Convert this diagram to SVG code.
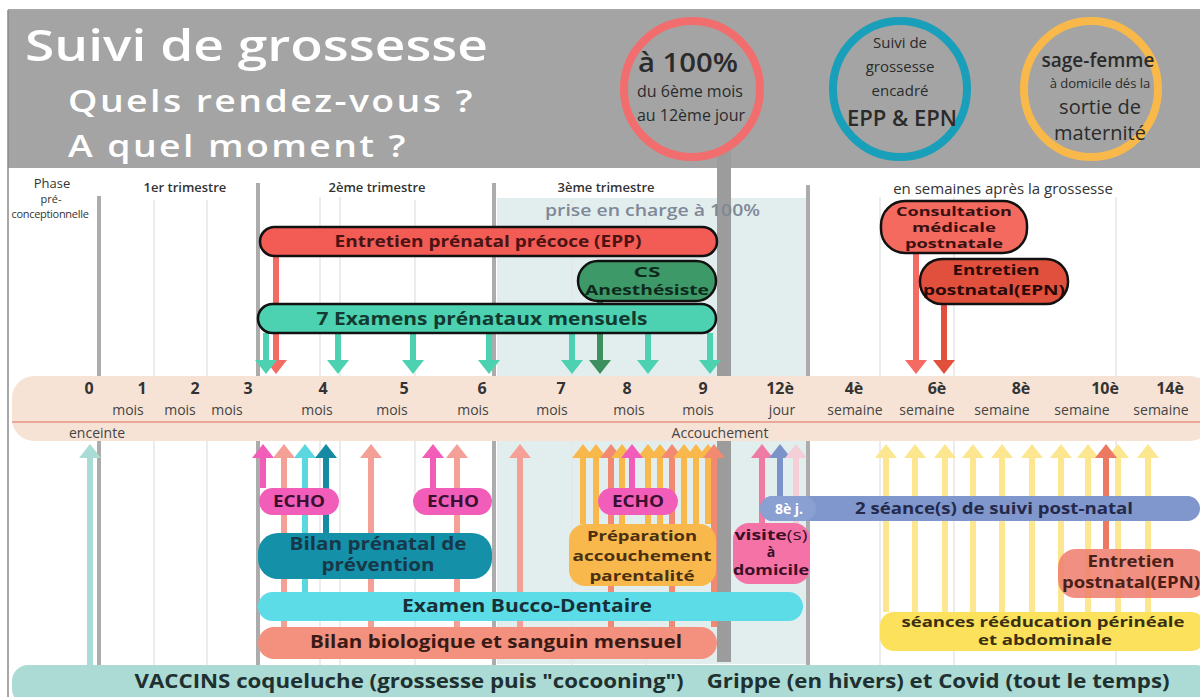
<svg xmlns="http://www.w3.org/2000/svg" width="1200" height="697" viewBox="0 0 1200 697">
<style>
.t{font-family:"Open Sans","Noto Sans",sans-serif}
.b{font-family:"Open Sans","Noto Sans",sans-serif;font-weight:700;text-anchor:middle}
.grid{stroke:#e6e6e6;stroke-width:1.5}
.thick{stroke:#acacac;stroke-width:4}
.bar{stroke:#111;stroke-width:2.5}
.num{font-family:"Open Sans",sans-serif;font-weight:700;font-size:16px;fill:#333;text-anchor:middle}
.unit{font-family:"Open Sans",sans-serif;font-size:14px;fill:#444;text-anchor:middle}
.ct{font-family:"Open Sans",sans-serif;fill:#2b2b2b;text-anchor:middle}
</style>
<defs>
<marker id="mTeal" viewBox="0 0 14 22" refX="0" refY="11" markerWidth="14" markerHeight="22" markerUnits="userSpaceOnUse" orient="auto"><path d="M0,0L14,11L0,22z" fill="#4cd2b0"/></marker>
<marker id="mRed" viewBox="0 0 14 22" refX="0" refY="11" markerWidth="14" markerHeight="22" markerUnits="userSpaceOnUse" orient="auto"><path d="M0,0L14,11L0,22z" fill="#f56b64"/></marker>
<marker id="mGreen" viewBox="0 0 14 22" refX="0" refY="11" markerWidth="14" markerHeight="22" markerUnits="userSpaceOnUse" orient="auto"><path d="M0,0L14,11L0,22z" fill="#3d8f5f"/></marker>
<marker id="mEpn" viewBox="0 0 14 22" refX="0" refY="11" markerWidth="14" markerHeight="22" markerUnits="userSpaceOnUse" orient="auto"><path d="M0,0L14,11L0,22z" fill="#e0503c"/></marker>
<marker id="mLt" viewBox="0 0 14 22" refX="0" refY="11" markerWidth="14" markerHeight="22" markerUnits="userSpaceOnUse" orient="auto"><path d="M0,0L14,11L0,22z" fill="#a9dcd5"/></marker>
<marker id="mPink" viewBox="0 0 14 22" refX="0" refY="11" markerWidth="14" markerHeight="22" markerUnits="userSpaceOnUse" orient="auto"><path d="M0,0L14,11L0,22z" fill="#f25db9"/></marker>
<marker id="mSal" viewBox="0 0 14 22" refX="0" refY="11" markerWidth="14" markerHeight="22" markerUnits="userSpaceOnUse" orient="auto"><path d="M0,0L14,11L0,22z" fill="#f4a096"/></marker>
<marker id="mCyan" viewBox="0 0 14 22" refX="0" refY="11" markerWidth="14" markerHeight="22" markerUnits="userSpaceOnUse" orient="auto"><path d="M0,0L14,11L0,22z" fill="#5cd6df"/></marker>
<marker id="mDt" viewBox="0 0 14 22" refX="0" refY="11" markerWidth="14" markerHeight="22" markerUnits="userSpaceOnUse" orient="auto"><path d="M0,0L14,11L0,22z" fill="#168aa3"/></marker>
<marker id="mOr" viewBox="0 0 14 22" refX="0" refY="11" markerWidth="14" markerHeight="22" markerUnits="userSpaceOnUse" orient="auto"><path d="M0,0L14,11L0,22z" fill="#f9b84c"/></marker>
<marker id="mSo" viewBox="0 0 14 22" refX="0" refY="11" markerWidth="14" markerHeight="22" markerUnits="userSpaceOnUse" orient="auto"><path d="M0,0L14,11L0,22z" fill="#f28a72"/></marker>
<marker id="mVis" viewBox="0 0 14 22" refX="0" refY="11" markerWidth="14" markerHeight="22" markerUnits="userSpaceOnUse" orient="auto"><path d="M0,0L14,11L0,22z" fill="#f07ba2"/></marker>
<marker id="mBlue" viewBox="0 0 14 22" refX="0" refY="11" markerWidth="14" markerHeight="22" markerUnits="userSpaceOnUse" orient="auto"><path d="M0,0L14,11L0,22z" fill="#7b93c9"/></marker>
<marker id="mLp" viewBox="0 0 14 22" refX="0" refY="11" markerWidth="14" markerHeight="22" markerUnits="userSpaceOnUse" orient="auto"><path d="M0,0L14,11L0,22z" fill="#f4cfd8"/></marker>
<marker id="mYel" viewBox="0 0 14 22" refX="0" refY="11" markerWidth="14" markerHeight="22" markerUnits="userSpaceOnUse" orient="auto"><path d="M0,0L14,11L0,22z" fill="#fce790"/></marker>
<marker id="mEpn2" viewBox="0 0 14 22" refX="0" refY="11" markerWidth="14" markerHeight="22" markerUnits="userSpaceOnUse" orient="auto"><path d="M0,0L14,11L0,22z" fill="#ec7a62"/></marker>
</defs>

<rect x="0" y="0" width="1200" height="697" fill="#fff"/>

<!-- header -->
<g id="header">
<rect x="8" y="11" width="1192" height="157" fill="#a4a4a4"/>
<line x1="8" y1="10" x2="1200" y2="10" stroke="#8a8a8a" stroke-width="1.5"/>
<text x="25" y="61" class="t" font-size="44" font-weight="600" fill="#fff" textLength="463" lengthAdjust="spacingAndGlyphs">Suivi de grossesse</text>
<text x="68" y="112" class="t" font-size="31" font-weight="600" fill="#fff" letter-spacing="2" textLength="407" lengthAdjust="spacingAndGlyphs">Quels rendez-vous ?</text>
<text x="68" y="157" class="t" font-size="31" font-weight="600" fill="#fff" letter-spacing="2" textLength="340" lengthAdjust="spacingAndGlyphs">A quel moment ?</text>
</g>
<line x1="8" y1="10" x2="8" y2="697" stroke="#8a8a8a" stroke-width="1.5"/>

<!-- shaded 100% region -->
<rect x="497" y="198" width="311" height="466" fill="#e2eeee"/>

<!-- grid lines -->
<g id="grid">
<line class="grid" x1="154" y1="200" x2="154" y2="665"/>
<line class="grid" x1="207" y1="200" x2="207" y2="665"/>
<line class="grid" x1="320" y1="197" x2="320" y2="665"/>
<line class="grid" x1="340" y1="197" x2="340" y2="665"/>
<line class="grid" x1="415" y1="200" x2="415" y2="665"/>
<line class="grid" x1="572" y1="200" x2="572" y2="665"/>
<line class="grid" x1="646" y1="200" x2="646" y2="665"/>
<line class="grid" x1="880" y1="197" x2="880" y2="665"/>
<line class="grid" x1="954" y1="197" x2="954" y2="665"/>
<line class="grid" x1="1116" y1="197" x2="1116" y2="665"/>
<line class="thick" x1="99" y1="196" x2="99" y2="665" stroke="#b2acb4"/>
<line class="thick" x1="258" y1="183" x2="258" y2="665"/>
<line class="thick" x1="494" y1="183" x2="494" y2="665"/>
<line class="thick" x1="808" y1="185" x2="808" y2="665" stroke="#b8b8b8"/>
<rect x="717" y="150" width="14" height="512" fill="#9c9c9c"/>
</g>
<text x="545" y="216" class="t" font-size="17" font-weight="600" fill="#7f8897" textLength="215" lengthAdjust="spacingAndGlyphs">prise en charge à 100%</text>

<!-- circles -->
<g id="circle-100">
<ellipse cx="692" cy="89" rx="68" ry="68" fill="none" stroke="#f26d6d" stroke-width="8"/>
<text x="688" y="72" class="ct" font-size="27" font-weight="600" fill="#222" textLength="100" lengthAdjust="spacingAndGlyphs">à 100%</text>
<text x="690" y="97" class="ct" font-size="16">du 6ème mois</text>
<text x="691" y="121" class="ct" font-size="16">au 12ème jour</text>
</g>
<g id="circle-epp">
<ellipse cx="900" cy="89" rx="67" ry="68" fill="none" stroke="#1a9fba" stroke-width="8"/>
<text x="900" y="48" class="ct" font-size="15">Suivi de</text>
<text x="900" y="72" class="ct" font-size="15">grossesse</text>
<text x="900" y="96" class="ct" font-size="15">encadré</text>
<text x="902" y="126" class="ct" font-size="22" font-weight="600" fill="#1a1a1a">EPP &amp; EPN</text>
</g>
<g id="circle-sf">
<ellipse cx="1091" cy="89" rx="67" ry="68" fill="none" stroke="#f8b94a" stroke-width="8"/>
<text x="1098" y="67" class="ct" font-size="19" font-weight="600" fill="#1a1a1a">sage-femme</text>
<text x="1100" y="88" class="ct" font-size="13">à domicile dés la</text>
<text x="1100" y="114" class="ct" font-size="20">sortie de</text>
<text x="1100" y="140" class="ct" font-size="20">maternité</text>
</g>

<!-- column titles -->
<g id="col-titles" class="t" font-size="13" fill="#333" text-anchor="middle">
<text x="52" y="188">Phase</text>
<text x="51" y="203" font-size="11">pré-</text>
<text x="50" y="218" font-size="11" letter-spacing="-0.3">conceptionnelle</text>
<text x="185" y="192" font-weight="600">1er trimestre</text>
<text x="377" y="192" font-weight="600">2ème trimestre</text>
<text x="606" y="192" font-weight="600">3ème trimestre</text>
<text x="1003" y="194" font-size="15">en semaines après la grossesse</text>
</g>

<!-- connectors -->
<g id="connectors" fill="none" stroke-width="6">
<line x1="276" y1="256" x2="276" y2="360" stroke="#f56b64" marker-end="url(#mRed)"/>
<line x1="266" y1="333" x2="266" y2="360" stroke="#4cd2b0" marker-end="url(#mTeal)"/>
<line x1="338" y1="333" x2="338" y2="360" stroke="#4cd2b0" marker-end="url(#mTeal)"/>
<line x1="413" y1="333" x2="413" y2="360" stroke="#4cd2b0" marker-end="url(#mTeal)"/>
<line x1="489" y1="333" x2="489" y2="360" stroke="#4cd2b0" marker-end="url(#mTeal)"/>
<line x1="572" y1="333" x2="572" y2="360" stroke="#4cd2b0" marker-end="url(#mTeal)"/>
<line x1="600" y1="301" x2="600" y2="360" stroke="#3d8f5f" marker-end="url(#mGreen)"/>
<line x1="648" y1="333" x2="648" y2="360" stroke="#4cd2b0" marker-end="url(#mTeal)"/>
<line x1="710" y1="333" x2="710" y2="360" stroke="#4cd2b0" marker-end="url(#mTeal)"/>
<line x1="916" y1="253" x2="916" y2="360" stroke="#f56b64" marker-end="url(#mRed)"/>
<line x1="944" y1="304" x2="944" y2="360" stroke="#e0503c" marker-end="url(#mEpn)"/>
<line x1="90" y1="665" x2="90" y2="458" stroke="#a9dcd5" marker-end="url(#mLt)"/>
<line x1="284" y1="627" x2="284" y2="458" stroke="#f4a096" marker-end="url(#mSal)"/>
<line x1="305" y1="592" x2="305" y2="458" stroke="#5cd6df" marker-end="url(#mCyan)"/>
<line x1="263" y1="488" x2="263" y2="458" stroke="#f25db9" marker-end="url(#mPink)"/>
<line x1="326" y1="533" x2="326" y2="458" stroke="#168aa3" marker-end="url(#mDt)"/>
<line x1="371" y1="627" x2="371" y2="458" stroke="#f4a096" marker-end="url(#mSal)"/>
<line x1="433" y1="488" x2="433" y2="458" stroke="#f25db9" marker-end="url(#mPink)"/>
<line x1="457" y1="627" x2="457" y2="458" stroke="#f4a096" marker-end="url(#mSal)"/>
<line x1="520" y1="627" x2="520" y2="458" stroke="#f4a096" marker-end="url(#mSal)"/>
<line x1="583" y1="524" x2="583" y2="458" stroke="#f9b84c" marker-end="url(#mOr)"/>
<line x1="596" y1="524" x2="596" y2="458" stroke="#f9b84c" marker-end="url(#mOr)"/>
<line x1="611" y1="627" x2="611" y2="458" stroke="#f28a72" marker-end="url(#mSo)"/>
<line x1="622" y1="524" x2="622" y2="458" stroke="#f9b84c" marker-end="url(#mOr)"/>
<line x1="648" y1="524" x2="648" y2="458" stroke="#f9b84c" marker-end="url(#mOr)"/>
<line x1="660" y1="524" x2="660" y2="458" stroke="#f9b84c" marker-end="url(#mOr)"/>
<line x1="672" y1="627" x2="672" y2="458" stroke="#f28a72" marker-end="url(#mSo)"/>
<line x1="684" y1="524" x2="684" y2="458" stroke="#f9b84c" marker-end="url(#mOr)"/>
<line x1="696" y1="524" x2="696" y2="458" stroke="#f9b84c" marker-end="url(#mOr)"/>
<line x1="708" y1="524" x2="708" y2="458" stroke="#f9b84c" marker-end="url(#mOr)"/>
<line x1="714" y1="627" x2="714" y2="458" stroke="#f28a72" marker-end="url(#mSo)"/>
<line x1="632" y1="488" x2="632" y2="458" stroke="#f25db9" marker-end="url(#mPink)"/>
<line x1="762" y1="523" x2="762" y2="458" stroke="#f07ba2" marker-end="url(#mVis)"/>
<line x1="780" y1="496" x2="780" y2="458" stroke="#7b93c9" marker-end="url(#mBlue)"/>
<line x1="796" y1="523" x2="796" y2="458" stroke="#f4cfd8" marker-end="url(#mLp)"/>
<g stroke="#fce790">
<line x1="886" y1="612" x2="886" y2="458" marker-end="url(#mYel)"/>
<line x1="915" y1="612" x2="915" y2="458" marker-end="url(#mYel)"/>
<line x1="945" y1="612" x2="945" y2="458" marker-end="url(#mYel)"/>
<line x1="973" y1="612" x2="973" y2="458" marker-end="url(#mYel)"/>
<line x1="1002" y1="612" x2="1002" y2="458" marker-end="url(#mYel)"/>
<line x1="1032" y1="612" x2="1032" y2="458" marker-end="url(#mYel)"/>
<line x1="1061" y1="612" x2="1061" y2="458" marker-end="url(#mYel)"/>
<line x1="1088" y1="612" x2="1088" y2="458" marker-end="url(#mYel)"/>
<line x1="1118" y1="612" x2="1118" y2="458" marker-end="url(#mYel)"/>
<line x1="1148" y1="612" x2="1148" y2="458" marker-end="url(#mYel)"/>
</g>
<line x1="1106" y1="549" x2="1106" y2="458" stroke="#ec7a62" marker-end="url(#mEpn2)"/>
</g>

<!-- timeline band -->
<g id="timeline">
<rect x="12" y="376" width="1200" height="65" rx="22" fill="#f6e3d6"/>
<line x1="12" y1="422" x2="1200" y2="422" stroke="#e8a89c" stroke-width="2"/>
<text class="num" x="89" y="394">0</text>
<text class="num" x="142" y="394">1</text>
<text class="num" x="195" y="394">2</text>
<text class="num" x="248" y="394">3</text>
<text class="num" x="323" y="394">4</text>
<text class="num" x="404" y="394">5</text>
<text class="num" x="482" y="394">6</text>
<text class="num" x="561" y="394">7</text>
<text class="num" x="627" y="394">8</text>
<text class="num" x="703" y="394">9</text>
<text class="num" x="780" y="394">12è</text>
<text class="num" x="854" y="394">4è</text>
<text class="num" x="937" y="394">6è</text>
<text class="num" x="1021" y="394">8è</text>
<text class="num" x="1105" y="394">10è</text>
<text class="num" x="1170" y="394">14è</text>
<text class="unit" x="128" y="415">mois</text>
<text class="unit" x="180" y="415">mois</text>
<text class="unit" x="227" y="415">mois</text>
<text class="unit" x="317" y="415">mois</text>
<text class="unit" x="392" y="415">mois</text>
<text class="unit" x="473" y="415">mois</text>
<text class="unit" x="552" y="415">mois</text>
<text class="unit" x="629" y="415">mois</text>
<text class="unit" x="698" y="415">mois</text>
<text class="unit" x="782" y="415">jour</text>
<text class="unit" x="855" y="415">semaine</text>
<text class="unit" x="927" y="415">semaine</text>
<text class="unit" x="1002" y="415">semaine</text>
<text class="unit" x="1082" y="415">semaine</text>
<text class="unit" x="1161" y="415">semaine</text>
<text class="unit" x="97" y="438" font-size="15" fill="#222">enceinte</text>
<text class="unit" x="720" y="438" font-size="15" fill="#222">Accouchement</text>
</g>

<!-- upper nodes -->
<g id="epp"><rect class="bar" x="260" y="227" width="457" height="29" rx="14.5" fill="#f35b55"/>
<text class="b" x="488" y="247" font-size="16" fill="#4a1414" textLength="307" lengthAdjust="spacingAndGlyphs">Entretien prénatal précoce (EPP)</text></g>
<g id="cs-anesth"><rect class="bar" x="578" y="261" width="138" height="40" rx="20" fill="#3d9a68"/>
<text class="b" x="647" y="277" font-size="14.5" fill="#0f2a1c" textLength="27" lengthAdjust="spacingAndGlyphs">CS</text>
<text class="b" x="647" y="295" font-size="14.5" fill="#0f2a1c" textLength="124" lengthAdjust="spacingAndGlyphs">Anesthésiste</text></g>
<g id="examens"><rect class="bar" x="258" y="304" width="458" height="29" rx="14.5" fill="#4cd2b0"/>
<text class="b" x="482" y="325" font-size="18" fill="#133a30" textLength="331" lengthAdjust="spacingAndGlyphs">7 Examens prénataux mensuels</text></g>
<g id="consult-postnatale"><rect class="bar" x="881" y="201" width="146" height="52" rx="24" fill="#f46a5f"/>
<text class="b" x="954" y="216" font-size="11.8" fill="#3a1010" textLength="116" lengthAdjust="spacingAndGlyphs">Consultation</text>
<text class="b" x="954" y="232" font-size="11.8" fill="#3a1010" textLength="84" lengthAdjust="spacingAndGlyphs">médicale</text>
<text class="b" x="954" y="248" font-size="11.8" fill="#3a1010" textLength="98" lengthAdjust="spacingAndGlyphs">postnatale</text></g>
<g id="epn-upper"><rect class="bar" x="920" y="259" width="148" height="45" rx="22" fill="#e0503c"/>
<text class="b" x="996" y="275" font-size="15" fill="#2a0a08" textLength="87" lengthAdjust="spacingAndGlyphs">Entretien</text>
<text class="b" x="994" y="295" font-size="15" fill="#2a0a08" textLength="142" lengthAdjust="spacingAndGlyphs">postnatal(EPN)</text></g>

<!-- lower nodes -->
<g id="echo1"><rect x="259" y="488" width="80" height="27" rx="13.5" fill="#f25db9"/>
<text class="b" x="299" y="507" font-size="15.5" fill="#3a1030" textLength="52" lengthAdjust="spacingAndGlyphs">ECHO</text></g>
<g id="echo2"><rect x="413" y="488" width="79" height="27" rx="13.5" fill="#f25db9"/>
<text class="b" x="453" y="507" font-size="15.5" fill="#3a1030" textLength="52" lengthAdjust="spacingAndGlyphs">ECHO</text></g>
<g id="echo3"><rect x="598" y="488" width="80" height="27" rx="13.5" fill="#f25db9"/>
<text class="b" x="638" y="507" font-size="15.5" fill="#3a1030" textLength="52" lengthAdjust="spacingAndGlyphs">ECHO</text></g>
<g id="bilan-prenatal"><rect x="258" y="533" width="234" height="46" rx="20" fill="#1490a8"/>
<text class="b" x="378" y="550" font-size="17" fill="#173848" textLength="177" lengthAdjust="spacingAndGlyphs">Bilan prénatal de</text>
<text class="b" x="378" y="571" font-size="17" fill="#173848" textLength="113" lengthAdjust="spacingAndGlyphs">prévention</text></g>
<g id="preparation"><rect x="569" y="524" width="147" height="62" rx="16" fill="#f9b84c"/>
<text class="b" x="642" y="541" font-size="15" fill="#4a3010" textLength="110" lengthAdjust="spacingAndGlyphs">Préparation</text>
<text class="b" x="642" y="561" font-size="15" fill="#4a3010" textLength="139" lengthAdjust="spacingAndGlyphs">accouchement</text>
<text class="b" x="642" y="581" font-size="15" fill="#4a3010" textLength="105" lengthAdjust="spacingAndGlyphs">parentalité</text></g>
<g id="suivi-postnatal"><rect x="760" y="496" width="440" height="25" rx="12.5" fill="#7f97cc"/>
<text class="b" x="994" y="514" font-size="15.5" fill="#25294a" textLength="278" lengthAdjust="spacingAndGlyphs">2 séance(s) de suivi post-natal</text></g>
<g id="j8"><rect x="760" y="496" width="56" height="25" rx="12.5" fill="#8aa0d2"/>
<text class="b" x="789" y="514" font-size="14" fill="#fff">8è j.</text></g>
<g id="visite"><rect x="733" y="523" width="77" height="61" rx="16" fill="#f472a6"/>
<text class="b" x="771" y="540" font-size="14" fill="#3a1028" textLength="73" lengthAdjust="spacingAndGlyphs">visite<tspan font-weight="400">(s)</tspan></text>
<text class="b" x="771" y="557" font-size="14" fill="#3a1028">à</text>
<text class="b" x="771" y="575" font-size="14" fill="#3a1028" textLength="76" lengthAdjust="spacingAndGlyphs">domicile</text></g>
<g id="epn-lower"><rect x="1058" y="549" width="150" height="49" rx="18" fill="#ef7c6c" fill-opacity="0.85"/>
<text class="b" x="1131" y="567" font-size="15.5" fill="#4a2018" font-weight="600" textLength="87" lengthAdjust="spacingAndGlyphs">Entretien</text>
<text class="b" x="1131" y="588" font-size="15.5" fill="#4a2018" font-weight="600" textLength="138" lengthAdjust="spacingAndGlyphs">postnatal(EPN)</text></g>
<g id="bucco"><rect x="258" y="592" width="545" height="29" rx="14.5" fill="#5cdce6"/>
<text class="b" x="527" y="612" font-size="18" fill="#173038" textLength="250" lengthAdjust="spacingAndGlyphs">Examen Bucco-Dentaire</text></g>
<g id="reeducation"><rect x="880" y="612" width="325" height="39" rx="14" fill="#fbe15c"/>
<text class="b" x="1043" y="627" font-size="14.5" fill="#3a3010" textLength="283" lengthAdjust="spacingAndGlyphs">séances rééducation périnéale</text>
<text class="b" x="1045" y="645" font-size="14.5" fill="#3a3010" textLength="134" lengthAdjust="spacingAndGlyphs">et abdominale</text></g>
<g id="bilan-bio"><rect x="258" y="627" width="459" height="32" rx="16" fill="#f3907e"/>
<text class="b" x="496" y="648" font-size="17.5" fill="#3a1a14" textLength="372" lengthAdjust="spacingAndGlyphs">Bilan biologique et sanguin mensuel</text></g>
<g id="vaccins"><rect x="12" y="665" width="1200" height="40" rx="16" fill="#acdad4"/>
<text class="b" x="652" y="688" font-size="19" fill="#1e3030" textLength="1035" lengthAdjust="spacingAndGlyphs" xml:space="preserve">VACCINS coqueluche (grossesse puis "cocooning")    Grippe (en hivers) et Covid (tout le temps)</text></g>
</svg>
